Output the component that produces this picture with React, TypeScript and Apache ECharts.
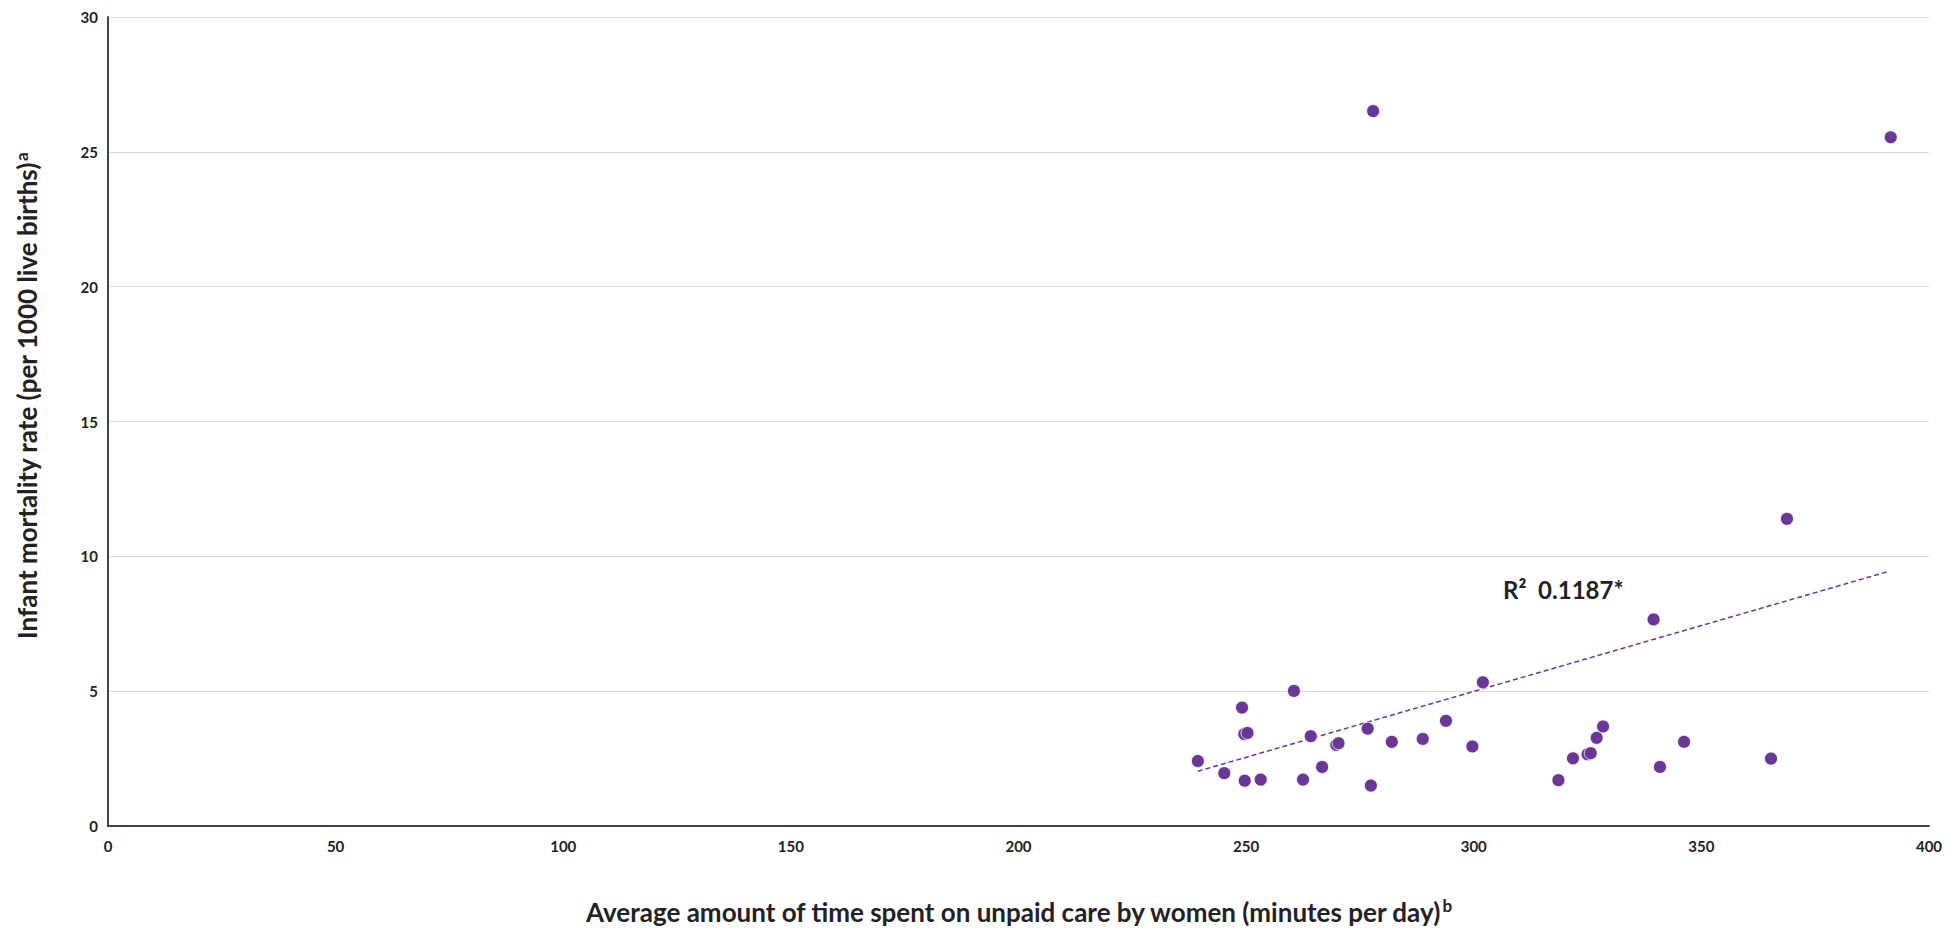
import React, { useEffect, useRef } from "react";
import * as echarts from "echarts";

const careMinutes: number[] = [
  239.4, 245.2, 249.1, 249.6, 250.3, 249.7, 253.2, 260.5, 262.5, 264.2, 266.7,
  269.8, 270.3, 276.7, 277.4, 282.0, 288.8, 293.9, 299.7, 302.0, 318.6, 321.8,
  325.0, 325.7, 327.0, 328.4, 339.5, 340.9, 346.2, 365.3, 368.8, 277.9, 391.6,
];
const infantMortality: number[] = [
  2.41, 1.96, 4.39, 3.41, 3.45, 1.68, 1.72, 5.01, 1.72, 3.33, 2.19,
  3.01, 3.07, 3.61, 1.5, 3.12, 3.23, 3.9, 2.95, 5.33, 1.7, 2.51,
  2.66, 2.7, 3.27, 3.69, 7.66, 2.19, 3.12, 2.5, 11.39, 26.51, 25.54,
];
const trendX: number[] = [239.4, 391.3];
const trendY: number[] = [2.03, 9.45];
const rSquaredLabel = "R²  0.1187*";

const xTitle = "Average amount of time spent on unpaid care by women (minutes per day)";
const yTitle = "Infant mortality rate (per 1000 live births)";

const FONT = "Lato, 'Noto Sans', sans-serif";
const PURPLE = "#6a3796";

export default function App() {
  const ref = useRef<HTMLDivElement>(null);
  useEffect(() => {
    if (!ref.current) return;
    const chart = echarts.init(ref.current, undefined, { renderer: "svg" });
    const points = careMinutes.map((x, i) => [x, infantMortality[i]]);
    const trend = trendX.map((x, i) => [x, trendY[i]]);
    chart.setOption({
      animation: false,
      backgroundColor: "#ffffff",
      grid: { left: 108, right: 31, top: 17, bottom: 108, containLabel: false },
      xAxis: {
        type: "value",
        min: 0,
        max: 400,
        interval: 50,
        name: xTitle + "{s|b}",
        nameLocation: "middle",
        nameGap: 71,
        nameTextStyle: {
          fontFamily: FONT,
          fontSize: 26,
          fontWeight: "bold",
          color: "#222",
          rich: {
            s: { fontFamily: FONT, fontSize: 17, fontWeight: "bold", color: "#222", verticalAlign: "top", padding: [0, 0, 12, 1] },
          },
        },
        axisLine: { show: true, lineStyle: { color: "#444", width: 2 } },
        axisTick: { show: false },
        splitLine: { show: false },
        axisLabel: { fontFamily: FONT, fontSize: 15, fontWeight: "bold", color: "#222", margin: 12 },
      },
      yAxis: {
        type: "value",
        min: 0,
        max: 30,
        interval: 5,
        axisLine: { show: true, lineStyle: { color: "#444", width: 2 } },
        axisTick: { show: false },
        splitLine: { show: true, lineStyle: { color: "#dcdcdc", width: 1 } },
        axisLabel: { fontFamily: FONT, fontSize: 15, fontWeight: "bold", color: "#222", margin: 10 },
      },
      graphic: [
        {
          type: "text",
          x: 27,
          y: 396,
          rotation: Math.PI / 2,
          style: {
            text: "{m|" + yTitle + "}{s|a}",
            align: "center",
            verticalAlign: "middle",
            fill: "#222",
            rich: {
              m: { fontFamily: FONT, fontSize: 26, fontWeight: "bold", fill: "#222" },
              s: { fontFamily: FONT, fontSize: 17, fontWeight: "bold", fill: "#222", verticalAlign: "top", padding: [0, 0, 12, 1] },
            },
          },
        },
        {
          type: "text",
          x: 1503,
          y: 589,
          style: {
            text: rSquaredLabel,
            fontFamily: FONT,
            fontSize: 24,
            fontWeight: "bold",
            fill: "#222",
            align: "left",
            verticalAlign: "middle",
          },
        },
      ],
      series: [
        {
          type: "line",
          data: trend,
          symbol: "none",
          lineStyle: { color: PURPLE, width: 1.5, type: [5, 3] },
          z: 1,
        },
        {
          type: "scatter",
          data: points,
          symbolSize: 13,
          itemStyle: { color: PURPLE, borderColor: "#ffffff", borderWidth: 0.8, opacity: 1 },
          z: 2,
        },
      ],
    });
    return () => chart.dispose();
  }, []);
  return (
    <div
      ref={ref}
      style={{ position: "absolute", left: 0, top: 0, width: 1960, height: 934 }}
    />
  );
}
